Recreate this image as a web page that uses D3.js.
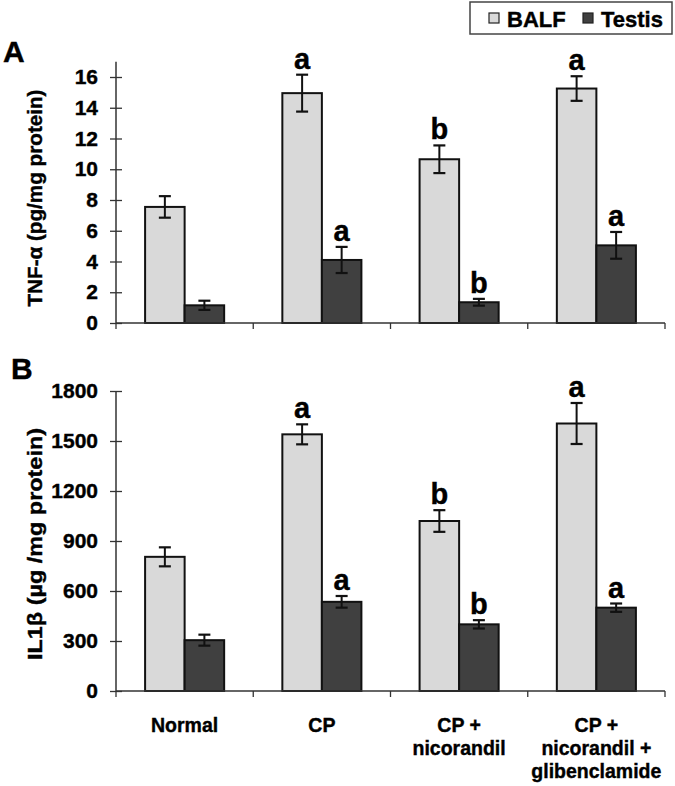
<!DOCTYPE html>
<html>
<head>
<meta charset="utf-8">
<script src="https://cdn.jsdelivr.net/npm/d3@7"></script>
<style>
  html, body { margin: 0; padding: 0; background: #fff; }
  svg { display: block; }
  text { font-family: "Liberation Sans", Arial, sans-serif; font-weight: bold; fill: #000; stroke: #000; stroke-width: 0.4px; }
</style>
</head>
<body>
<svg id="chart" width="675" height="786"></svg>
<script>
// ---- data ----
const categories = ["Normal", "CP", "CP + nicorandil", "CP + nicorandil + glibenclamide"];
const categoryLines = [["Normal"], ["CP"], ["CP +", "nicorandil"], ["CP +", "nicorandil +", "glibenclamide"]];
const seriesNames = ["BALF", "Testis"];

const tnfBALF = [7.55, 14.95, 10.65, 15.25];
const tnfBALFerr = [0.7, 1.2, 0.9, 0.8];
const tnfTestis = [1.15, 4.1, 1.35, 5.05];
const tnfTestisErr = [0.3, 0.85, 0.22, 0.87];
const tnfBALFsig = ["", "a", "b", "a"];
const tnfTestisSig = ["", "a", "b", "a"];
const tnfTicks = [0, 2, 4, 6, 8, 10, 12, 14, 16];

const il1BALF = [805, 1540, 1020, 1605];
const il1BALFerr = [57, 60, 65, 123];
const il1Testis = [305, 535, 400, 500];
const il1TestisErr = [33, 35, 25, 25];
const il1BALFsig = ["", "a", "b", "a"];
const il1TestisSig = ["", "a", "b", "a"];
const il1Ticks = [0, 300, 600, 900, 1200, 1500, 1800];

const colors = { BALF: "#d9d9d9", Testis: "#404040" };

// ---- layout ----
const svg = d3.select("#chart");
const xLeft = 116, xRight = 665;

const x0 = d3.scaleBand().domain(categories).range([xLeft, xRight])
  .paddingInner(0.424).paddingOuter(0.212);
const x1 = d3.scaleBand().domain(seriesNames).range([0, x0.bandwidth()]).padding(0);

function panel(opts) {
  const g = svg.append("g");
  const y = d3.scaleLinear().domain(opts.domain).range([opts.y0, opts.yTop]);

  const rows = categories.map((c, i) => ([
    { cat: c, key: "BALF", v: opts.balf[i], e: opts.balfErr[i], s: opts.balfSig[i] },
    { cat: c, key: "Testis", v: opts.testis[i], e: opts.testisErr[i], s: opts.testisSig[i] }
  ])).flat();

  // bars
  g.selectAll("rect.bar").data(rows).join("rect")
    .attr("x", d => x0(d.cat) + x1(d.key))
    .attr("y", d => y(d.v))
    .attr("width", x1.bandwidth())
    .attr("height", d => y(0) - y(d.v))
    .attr("fill", d => colors[d.key])
    .attr("stroke", "#111")
    .attr("stroke-width", 2);

  // error bars
  const eg = g.selectAll("g.err").data(rows).join("g")
    .attr("transform", d => `translate(${x0(d.cat) + x1(d.key) + x1.bandwidth() / 2},0)`);
  eg.append("line").attr("x1", 0).attr("x2", 0)
    .attr("y1", d => y(d.v + d.e)).attr("y2", d => y(d.v - d.e))
    .attr("stroke", "#111").attr("stroke-width", 2);
  eg.append("line").attr("x1", -6).attr("x2", 6)
    .attr("y1", d => y(d.v + d.e)).attr("y2", d => y(d.v + d.e))
    .attr("stroke", "#111").attr("stroke-width", 2.2);
  eg.append("line").attr("x1", -6).attr("x2", 6)
    .attr("y1", d => y(d.v - d.e)).attr("y2", d => y(d.v - d.e))
    .attr("stroke", "#111").attr("stroke-width", 2.2);
  eg.append("text")
    .attr("x", 0).attr("y", d => y(d.v + d.e) - 6)
    .attr("text-anchor", "middle")
    .style("font-size", "29px")
    .text(d => d.s);

  // y axis
  const yAxis = d3.axisLeft(y).tickValues(opts.ticks).tickSize(0).tickPadding(18).tickFormat(d3.format("d"));
  const ya = g.append("g").attr("transform", `translate(${xLeft},0)`).call(yAxis);
  ya.select(".domain").remove();
  ya.selectAll("text").style("font-size", "21px").style("font-family", "Liberation Sans, Arial, sans-serif")
    .style("font-weight", "bold").attr("fill", "#000").attr("stroke", "#000").attr("stroke-width", 0.4);
  ya.selectAll(".tick").append("line").attr("x1", -6).attr("x2", 6).attr("stroke", "#333").attr("stroke-width", 1.3);
  g.append("line").attr("x1", xLeft).attr("x2", xLeft)
    .attr("y1", opts.y0).attr("y2", opts.yTop)
    .attr("stroke", "#333").attr("stroke-width", 1.5);

  // x axis
  g.append("line").attr("x1", xLeft).attr("x2", xRight)
    .attr("y1", y(0)).attr("y2", y(0))
    .attr("stroke", "#333").attr("stroke-width", 1.5);
  g.selectAll("line.xt").data(categories.map((c, i) => xLeft + i * x0.step()).concat([xRight])).join("line")
    .attr("x1", d => d).attr("x2", d => d)
    .attr("y1", y(0)).attr("y2", y(0) + 6)
    .attr("stroke", "#333").attr("stroke-width", 1.3);

  // y title
  g.append("text")
    .attr("transform", `translate(${opts.titleX},${opts.titleY}) rotate(-90)`)
    .attr("text-anchor", "middle")
    .style("font-size", "20px")
    .attr("textLength", opts.titleLen)
    .attr("lengthAdjust", "spacingAndGlyphs")
    .text(opts.title);

  // panel letter
  g.append("text").attr("x", opts.letterX).attr("y", opts.letterY)
    .style("font-size", "30px").text(opts.letter);

  return { g, y };
}

panel({
  domain: [0, 17], y0: 323, yTop: 323 - 17 * 15.375,
  balf: tnfBALF, balfErr: tnfBALFerr, testis: tnfTestis, testisErr: tnfTestisErr,
  balfSig: tnfBALFsig, testisSig: tnfTestisSig, ticks: tnfTicks,
  title: "TNF-α (pg/mg protein)", titleX: 42, titleY: 198, titleLen: 217,
  letter: "A", letterX: 3, letterY: 62
});

panel({
  domain: [0, 1800], y0: 691, yTop: 391,
  balf: il1BALF, balfErr: il1BALFerr, testis: il1Testis, testisErr: il1TestisErr,
  balfSig: il1BALFsig, testisSig: il1TestisSig, ticks: il1Ticks,
  title: "IL1β (µg /mg protein)", titleX: 42, titleY: 544, titleLen: 232,
  letter: "B", letterX: 11, letterY: 379
});

// x category labels (under panel B)
const xl = svg.append("g");
categoryLines.forEach((lines, i) => {
  const cx = x0(categories[i]) + x0.bandwidth() / 2;
  const t = xl.append("text").attr("text-anchor", "middle").style("font-size", "19.5px");
  lines.forEach((ln, j) => {
    t.append("tspan").attr("x", cx).attr("y", 732 + j * 23).text(ln);
  });
});

// legend
const lg = svg.append("g");
lg.append("rect").attr("x", 470).attr("y", 2).attr("width", 202).attr("height", 32)
  .attr("fill", "#fff").attr("stroke", "#444").attr("stroke-width", 1.5);
const legendX = [489, 583];
seriesNames.forEach((s, i) => {
  lg.append("rect").attr("x", legendX[i]).attr("y", 13).attr("width", 10).attr("height", 10)
    .attr("fill", colors[s]).attr("stroke", "#222").attr("stroke-width", 1.2);
  lg.append("text").attr("x", legendX[i] + 18).attr("y", 26.5).style("font-size", "22px").text(s);
});
</script>
</body>
</html>
